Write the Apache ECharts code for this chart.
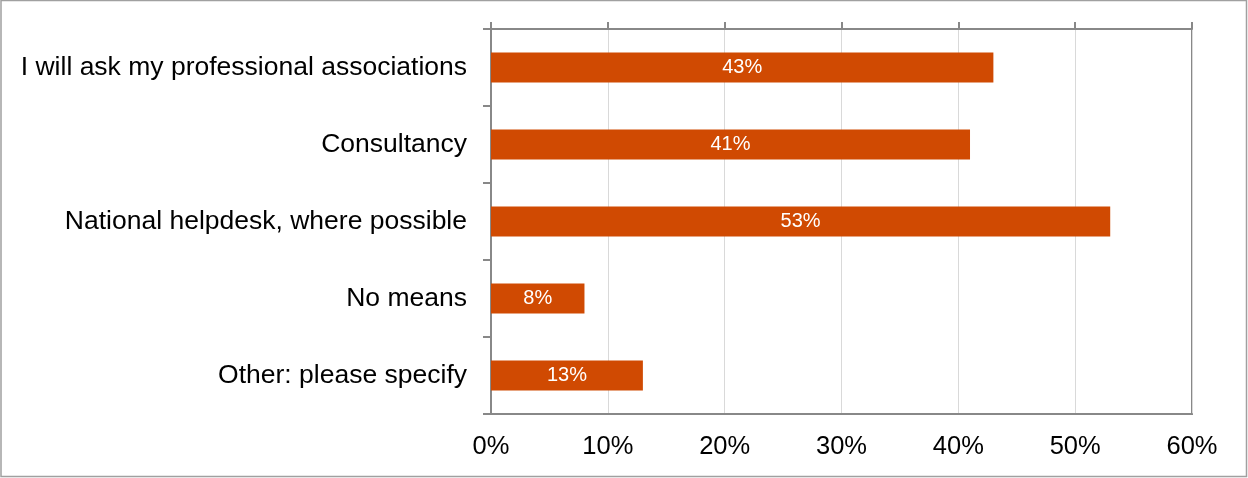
<!DOCTYPE html>
<html>
<head>
<meta charset="utf-8">
<script src="https://cdn.jsdelivr.net/npm/echarts@6/dist/echarts.min.js"></script>
<style>
  html, body { margin: 0; padding: 0; background: #fff; }
  #chart { width: 1248px; height: 478px; }
</style>
</head>
<body>
<div id="chart"></div>
<script>
// Survey responses: means of getting support
const categories = [
  'I will ask my professional associations',
  'Consultancy',
  'National helpdesk, where possible',
  'No means',
  'Other: please specify'
];
const shares = [43, 41, 53, 8, 13];
const tickLabels = ['0%', '10%', '20%', '30%', '40%', '50%', '60%'];

const FONT = 'Liberation Sans, Arial, sans-serif';
const AXIS_GRAY = '#888888';

const chart = echarts.init(document.getElementById('chart'), null, { renderer: 'canvas' });

chart.setOption({
  backgroundColor: '#ffffff',
  animation: false,
  graphic: [{
    type: 'rect',
    shape: { x: 1, y: 0.5, width: 1245.5, height: 476 },
    style: { fill: 'none', stroke: '#a0a0a0', lineWidth: 1.5 },
    silent: true
  }],
  grid: {
    left: 491, right: 56, top: 29, bottom: 64,
    show: true, borderColor: AXIS_GRAY, borderWidth: 2, containLabel: false
  },
  xAxis: [{
    type: 'value', min: 0, max: 60, interval: 10, position: 'bottom',
    axisLine: { show: true, lineStyle: { color: AXIS_GRAY, width: 2 } },
    axisTick: { show: false },
    splitLine: { show: true, lineStyle: { color: '#d9d9d9', width: 1 } },
    axisLabel: {
      formatter: (v) => tickLabels[Math.round(v / 10)],
      color: '#000', fontFamily: FONT, fontSize: 25.5, margin: 20
    }
  }, {
    type: 'value', min: 0, max: 60, interval: 10, position: 'top',
    axisLine: { show: true, lineStyle: { color: AXIS_GRAY, width: 2 } },
    axisTick: { show: true, length: 7, lineStyle: { color: AXIS_GRAY, width: 2 } },
    splitLine: { show: false },
    axisLabel: { show: false }
  }],
  yAxis: {
    type: 'category', data: categories, inverse: true,
    axisLine: { show: true, lineStyle: { color: AXIS_GRAY, width: 2 } },
    axisTick: { show: true, length: 8, lineStyle: { color: AXIS_GRAY, width: 2 } },
    axisLabel: { color: '#000', fontFamily: FONT, fontSize: 26.5, margin: 24 }
  },
  series: [{
    type: 'bar',
    data: shares,
    xAxisIndex: 0,
    barWidth: 30,
    itemStyle: { color: '#d04a02' },
    label: {
      show: true, position: 'inside', color: '#fff',
      fontFamily: FONT, fontSize: 20,
      formatter: (p) => p.value + '%'
    }
  }]
});
</script>
</body>
</html>
